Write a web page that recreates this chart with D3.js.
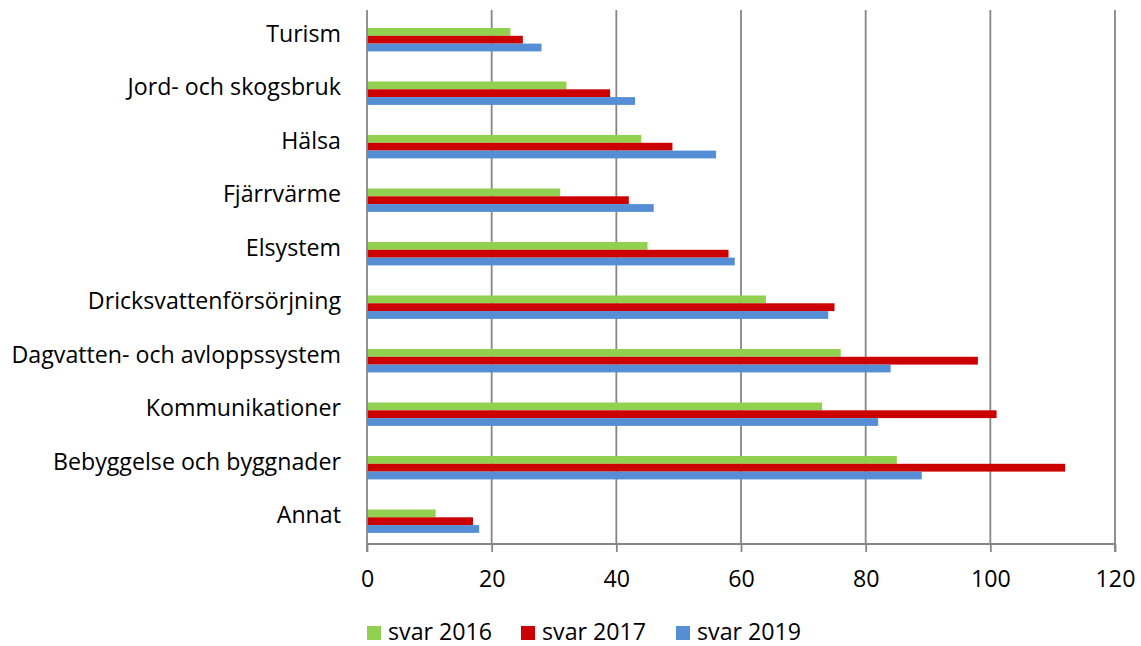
<!DOCTYPE html>
<html><head><meta charset="utf-8">
<script src="https://cdn.jsdelivr.net/npm/d3@7"></script>
<style>body{margin:0;background:#fff;} text{font-family:"Open Sans", Lato, sans-serif; fill:#000;}</style>
</head><body>
<svg id="c" width="1141" height="646"></svg>
<script>
const categories = ["Turism","Jord- och skogsbruk","Hälsa","Fjärrvärme","Elsystem","Dricksvattenförsörjning","Dagvatten- och avloppssystem","Kommunikationer","Bebyggelse och byggnader","Annat"];
const seriesNames = ["svar 2016","svar 2017","svar 2019"];
const svar2016 = [23,32,44,31,45,64,76,73,85,11];
const svar2017 = [25,39,49,42,58,75,98,101,112,17];
const svar2019 = [28,43,56,46,59,74,84,82,89,18];
const xTicks = [0,20,40,60,80,100,120];
const colors = ["#92D050","#CC0000","#558ED5"];
const seriesValues = [svar2016, svar2017, svar2019];

const FS = 23.2;
const svg = d3.select("#c");
const L = 367, R = 1115, T = 10, B = 545;
const x = d3.scaleLinear().domain([0,120]).range([L,R]);
const y = d3.scaleBand().domain(categories).range([T,B]).padding(0);
const barH = 7.8, groupOff = 18;
const sub = d3.scaleBand().domain(seriesNames).range([groupOff, groupOff + 3*barH]).padding(0);

// gridlines
svg.append("g").selectAll("line").data(xTicks.slice(1)).join("line")
  .attr("x1", d=>x(d)).attr("x2", d=>x(d)).attr("y1", T).attr("y2", B-1)
  .attr("stroke","#868686").attr("stroke-width",1.8);

// bars
seriesNames.forEach((s,i)=>{
  svg.append("g").selectAll("rect").data(categories).join("rect")
    .attr("x", x(0)).attr("y", c=>y(c)+sub(s))
    .attr("width", (c,j)=>x(seriesValues[i][j])-x(0))
    .attr("height", barH).attr("fill", colors[i]);
});

// left axis line
svg.append("line").attr("x1",L).attr("x2",L).attr("y1",T).attr("y2",B-1)
  .attr("stroke","#868686").attr("stroke-width",1.8);

// category labels
svg.append("g").selectAll("text").data(categories).join("text")
  .attr("x", 341).attr("y", c=>y(c)+31.5).attr("text-anchor","end")
  .attr("font-size",FS).text(c=>c);

// bottom axis
const xAxis = d3.axisBottom(x).tickValues(xTicks).tickSize(8).tickPadding(16).tickFormat(d3.format("d"));
const gx = svg.append("g").attr("transform",`translate(0,${B-1})`).call(xAxis);
gx.select(".domain").attr("stroke","#868686").attr("stroke-width",1.8).attr("d",`M${L},8V0H${R}V8`);
gx.selectAll(".tick line").attr("stroke","#868686").attr("stroke-width",1.8);
gx.selectAll(".tick text").attr("font-size",FS).attr("font-family","'Open Sans', sans-serif").attr("fill","#000").attr("dy","19px");

// legend
const legX = [367, 521, 676];
const lg = svg.append("g").selectAll("g").data(seriesNames).join("g")
  .attr("transform",(d,i)=>`translate(${legX[i]},0)`);
lg.append("rect").attr("x",0).attr("y",626).attr("width",14).attr("height",14).attr("fill",(d,i)=>colors[i]);
lg.append("text").attr("x",21).attr("y",639.5).attr("font-size",FS).text(d=>d);
</script>
</body></html>
